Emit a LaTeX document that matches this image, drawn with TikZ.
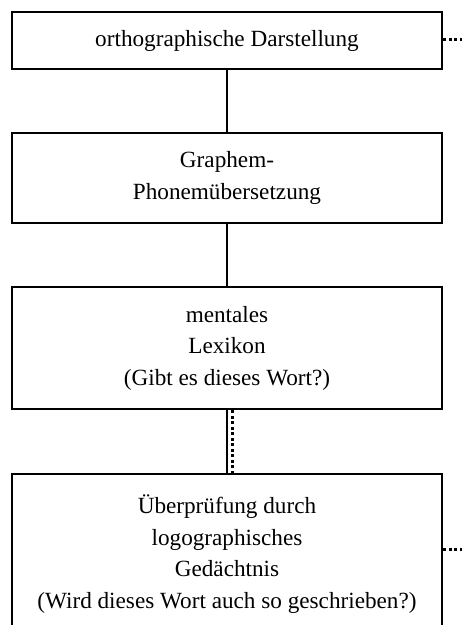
\documentclass[tikz,border=0pt]{standalone}
\usepackage{fontspec}
\setmainfont{Liberation Serif}
\tikzset{
  box/.style={draw, line width=2.8pt, minimum width=430pt, align=center, inner sep=0pt,
    font=\fontsize{23.2}{31.5}\selectfont},
  link/.style={line width=2.6pt},
  dotlink/.style={line width=3pt, dash pattern=on 3pt off 2.5pt}
}
\begin{document}
\begin{tikzpicture}[x=1pt,y=-1pt]
\useasboundingbox (0,0) rectangle (462,625);
\clip (0,0) rectangle (462,625);
\node[box, minimum height=57pt] (b1) at (227,40.5) {orthographische Darstellung};
\node[box, minimum height=90pt] (b2) at (227,178) {Graphem-\\Phonemübersetzung};
\node[box, minimum height=122pt] (b3) at (227,348) {mentales\\Lexikon\\(Gibt es dieses Wort?)};
\node[box, minimum height=160pt] (b4) at (227,554) {Überprüfung durch\\logographisches\\Gedächtnis\\(Wird dieses Wort auch so geschrieben?)};
\coordinate (e1) at (462,39);
\coordinate (e4) at (462,549);
\draw[link] (b1.south) -- (b2.north);
\draw[link] (b2.south) -- (b3.north);
\draw[link] (b3.south) -- (b4.north);
\draw[dotlink] ([xshift=5pt]b3.south) -- ([xshift=5pt]b4.north);
\draw[dotlink] (b1.east |- e1) -- (e1);
\draw[dotlink] (b4.east |- e4) -- (e4);
\end{tikzpicture}
\end{document}
